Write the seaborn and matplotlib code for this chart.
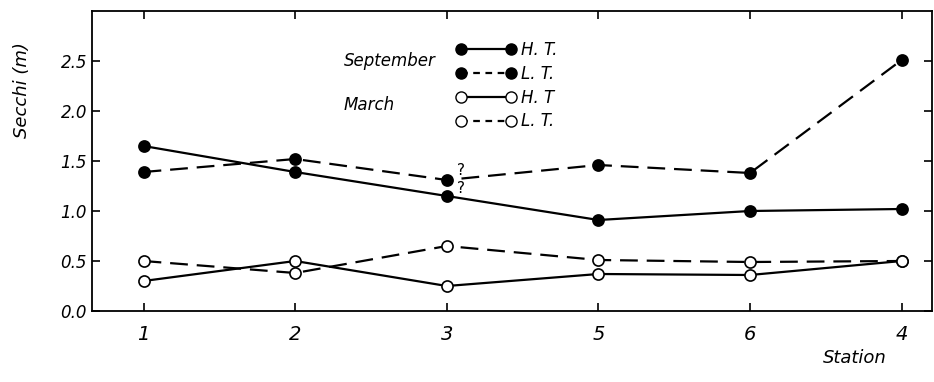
import pandas as pd
import seaborn as sns
import matplotlib.pyplot as plt
from matplotlib.lines import Line2D

stations = ['1', '2', '3', '5', '6', '4']
sep_ht = [1.65, 1.39, 1.15, 0.91, 1.00, 1.02]
sep_lt = [1.39, 1.52, 1.31, 1.46, 1.38, 2.51]
mar_ht = [0.30, 0.50, 0.25, 0.37, 0.36, 0.50]
mar_lt = [0.50, 0.38, 0.65, 0.51, 0.49, 0.50]

sns.set_style('ticks')
plt.rcParams['font.family'] = ['DejaVu Sans']
plt.rcParams['font.style'] = 'italic'
plt.rcParams['text.color'] = 'black'
plt.rcParams['xtick.color'] = 'black'
plt.rcParams['ytick.color'] = 'black'
plt.rcParams['axes.edgecolor'] = 'black'

fig = plt.figure(figsize=(9.34, 3.82), dpi=100)
ax = fig.add_axes([92 / 934, 71 / 382, 840 / 934, 300 / 382])

dash = (0, (8, 4))
series = [
    (sep_ht, 'black', '-'),
    (sep_lt, 'black', dash),
    (mar_ht, 'white', '-'),
    (mar_lt, 'white', dash),
]
for vals, face, ls in series:
    df = pd.DataFrame({'station': stations, 'secchi': vals})
    sns.lineplot(x='station', y='secchi', data=df, ax=ax, color='black',
                 linestyle=ls, linewidth=1.6, marker='o', markersize=8,
                 markerfacecolor=face, markeredgecolor='black',
                 markeredgewidth=1.2, sort=False)

# question marks beside the doubtful station 3 readings
ax.text(2.07, 1.33, '?', fontsize=11, style='normal', ha='left', va='bottom')
ax.text(2.07, 1.15, '?', fontsize=11, style='normal', ha='left', va='bottom')

ax.set_xlim(-0.34, 5.2)
ax.set_ylim(0, 3.0)
ax.set_yticks([0, 0.5, 1.0, 1.5, 2.0, 2.5])
ax.set_yticklabels(['0.0', '0.5', '1.0', '1.5', '2.0', '2.5'])
ax.tick_params(direction='in', top=True, right=True, length=6, width=1.2,
               labelsize=12)
ax.tick_params(axis='x', pad=10, labelsize=14)
for s in ax.spines.values():
    s.set_linewidth(1.3)

ax.set_xlabel('')
ax.set_ylabel('')
fig.text(855 / 934, 1 - 358 / 382, 'Station', fontsize=13, ha='center',
         va='center', style='italic')
fig.text(22 / 934, 1 - 90 / 382, 'Secchi (m)', fontsize=13, ha='center',
         va='center', rotation=90, style='italic')

ldash = (0, (3, 2.5))
handles = [
    Line2D([], [], color='black', ls='-', lw=1.6, marker='o', ms=8,
           mfc='black', mec='black'),
    Line2D([], [], color='black', ls=ldash, lw=1.6, marker='o', ms=8,
           mfc='black', mec='black'),
    Line2D([], [], color='black', ls='-', lw=1.6, marker='o', ms=8,
           mfc='white', mec='black'),
    Line2D([], [], color='black', ls=ldash, lw=1.6, marker='o', ms=8,
           mfc='white', mec='black'),
]
labels = ['H. T.', 'L. T.', 'H. T', 'L. T.']
ax.legend(handles, labels, numpoints=2, frameon=False, loc='upper left',
          bbox_to_anchor=(0.415, 0.95), handlelength=3.6, handletextpad=0.3,
          labelspacing=0.35, fontsize=12)

ax.text(0.30, 0.833, 'September', transform=ax.transAxes, fontsize=12,
        ha='left', va='center', style='italic')
ax.text(0.30, 0.687, 'March', transform=ax.transAxes, fontsize=12,
        ha='left', va='center', style='italic')

fig.savefig('out.png', dpi=100)
